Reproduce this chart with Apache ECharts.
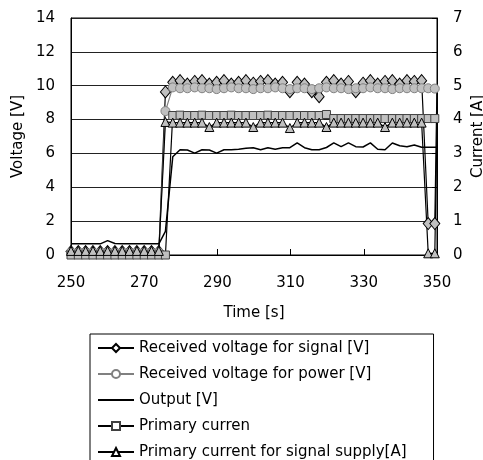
<!DOCTYPE html>
<html>
<head>
<meta charset="utf-8">
<script src="https://cdn.jsdelivr.net/npm/echarts@6/dist/echarts.min.js"></script>
<style>
  html, body { margin: 0; padding: 0; background: #fff; }
  #chart { width: 483px; height: 460px; }
</style>
</head>
<body>
<div id="chart"></div>
<script>
// sample times [s]
var time = [250, 252, 254, 256, 258, 260, 262, 264, 266, 268, 270, 272, 274,
  275.8, 277.8, 279.8, 281.8, 283.8, 285.8, 287.8, 289.8, 291.8, 293.8, 295.8,
  297.8, 299.8, 301.8, 303.8, 305.8, 307.8, 309.8, 311.8, 313.8, 315.8, 317.8,
  319.8, 321.8, 323.8, 325.8, 327.8, 329.8, 331.8, 333.8, 335.8, 337.8, 339.8,
  341.8, 343.8, 345.8, 347.6, 349.4, 350];

// voltages [V]
var signalV = [0.2, 0.2, 0.2, 0.2, 0.2, 0.2, 0.2, 0.2, 0.2, 0.2, 0.2, 0.2, 0.2,
  9.63, 10.2, 10.3, 10.1, 10.25, 10.3, 10.1, 10.2, 10.3, 10.1, 10.2, 10.3,
  10.15, 10.25, 10.3, 10.1, 10.2, 9.65, 10.2, 10.1, 9.65, 9.35, 10.2, 10.3,
  10.1, 10.25, 9.65, 10.15, 10.3, 10.1, 10.25, 10.3, 10.1, 10.3, 10.25, 10.3,
  1.86, 1.86, 10.1];
var powerV = [0.15, 0.15, 0.15, 0.15, 0.15, 0.15, 0.15, 0.15, 0.15, 0.15, 0.15, 0.15, 0.15,
  8.5, 9.9, 9.85, 9.85, 9.9, 9.85, 9.85, 9.8, 9.85, 9.9, 9.85, 9.85, 9.8,
  9.85, 9.85, 9.9, 9.85, 9.8, 9.85, 9.85, 9.8, 9.85, 9.9, 9.85, 9.85, 9.8,
  9.85, 9.85, 9.9, 9.85, 9.85, 9.8, 9.85, 9.85, 9.85, 9.85,
  9.85, 9.83, 9.83];
var outputV = [0.66, 0.66, 0.66, 0.66, 0.66, 0.85, 0.68, 0.66, 0.66, 0.66, 0.66, 0.66, 0.66,
  1.4, 5.8, 6.22, 6.2, 6.02, 6.22, 6.2, 6.02, 6.22, 6.22, 6.25, 6.3, 6.34,
  6.22, 6.34, 6.25, 6.34, 6.34, 6.62, 6.34, 6.22, 6.22, 6.35, 6.62, 6.4, 6.62,
  6.4, 6.38, 6.62, 6.25, 6.22, 6.62, 6.45, 6.4, 6.5, 6.36,
  6.36, 6.36, 6.36];

// currents [A]
var primaryA = [0, 0, 0, 0, 0, 0, 0, 0, 0, 0, 0, 0, 0,
  0, 4.12, 4.13, 4.12, 4.12, 4.13, 4.12, 4.12, 4.12, 4.13, 4.12, 4.12, 4.12,
  4.12, 4.13, 4.12, 4.12, 4.12, 4.12, 4.12, 4.12, 4.12, 4.15, 4.03, 4.03, 4.03,
  4.03, 4.03, 4.03, 4.03, 4.03, 4.03, 4.03, 4.03, 4.03, 4.03,
  4.03, 4.03, 4.03];
var signalSupplyA = [0.12, 0.12, 0.12, 0.12, 0.12, 0.12, 0.12, 0.12, 0.12, 0.12, 0.12, 0.12, 0.12,
  3.93, 3.91, 3.91, 3.91, 3.91, 3.91, 3.78, 3.91, 3.91, 3.91, 3.91, 3.91, 3.78,
  3.91, 3.91, 3.91, 3.91, 3.75, 3.91, 3.91, 3.91, 3.91, 3.78, 3.91, 3.91, 3.91,
  3.91, 3.91, 3.91, 3.91, 3.78, 3.91, 3.91, 3.91, 3.91, 3.91,
  0.05, 0.05, 3.8];

var seriesNames = ["Received voltage for signal [V]", "Received voltage for power [V]",
  "Output [V]", "Primary curren", "Primary current for signal supply[A]"];

function pairs(vals) {
  return vals.map(function (v, i) {
    var item = { value: [time[i], v] };
    if (i === vals.length - 1) item.symbol = "none";
    return item;
  });
}

var legendData = seriesNames.map(function (n, i) {
  if (i === 2) return { name: n, itemStyle: { color: "transparent", borderWidth: 0 } };
  return { name: n, itemStyle: { color: "#fff" } };
});

var font = "DejaVu Sans";
var myChart = echarts.init(document.getElementById("chart"));
var option = {
  animation: false,
  textStyle: { fontFamily: font },
  grid: {
    left: 71, right: 46, top: 18, bottom: 205,
    containLabel: false, outerBoundsMode: "none",
    show: true, borderColor: "#000", borderWidth: 1
  },
  legend: {
    orient: "vertical",
    left: 90,
    top: 334,
    height: 300,
    padding: [6, 27, 14, 7],
    borderColor: "#000",
    borderWidth: 1,
    itemWidth: 36,
    itemHeight: 10,
    itemGap: 10,
    textStyle: { fontFamily: font, fontSize: 15, color: "#000", lineHeight: 16 },
    data: legendData
  },
  xAxis: {
    type: "value",
    min: 250,
    max: 350,
    interval: 20,
    name: "Time [s]",
    nameLocation: "middle",
    nameGap: 51,
    nameMoveOverlap: false,
    nameTextStyle: { fontSize: 15, color: "#000", fontFamily: font },
    axisLine: { lineStyle: { color: "#000" } },
    axisTick: { inside: true, length: 6, lineStyle: { color: "#000" } },
    axisLabel: { fontSize: 15, color: "#000", margin: 21 },
    splitLine: { show: false }
  },
  yAxis: [
    {
      type: "value",
      min: 0,
      max: 14,
      interval: 2,
      name: "Voltage [V]",
      nameLocation: "middle",
      nameRotate: 90,
      nameGap: 45,
      nameMoveOverlap: false,
      nameTextStyle: { fontSize: 15, color: "#000", fontFamily: font },
      axisLine: { show: true, lineStyle: { color: "#000" } },
      axisTick: { show: false },
      axisLabel: { fontSize: 15, color: "#000", margin: 16 },
      splitLine: { lineStyle: { color: "#222", width: 1 } }
    },
    {
      type: "value",
      position: "right",
      min: 0,
      max: 7,
      interval: 1,
      name: "Current [A]",
      nameLocation: "middle",
      nameRotate: 90,
      nameGap: 34,
      nameMoveOverlap: false,
      nameTextStyle: { fontSize: 15, color: "#000", fontFamily: font },
      axisLine: { show: true, lineStyle: { color: "#000" } },
      axisTick: { inside: true, length: 5, lineStyle: { color: "#000" } },
      axisLabel: { fontSize: 15, color: "#000", margin: 16 },
      splitLine: { show: false }
    }
  ],
  series: [
    {
      name: seriesNames[0],
      type: "line",
      yAxisIndex: 0,
      symbol: "diamond",
      symbolSize: [10, 12],
      itemStyle: { color: "#c0c0c0", borderColor: "#000", borderWidth: 1 },
      lineStyle: { color: "#000", width: 1.2 },
      data: pairs(signalV)
    },
    {
      name: seriesNames[1],
      type: "line",
      yAxisIndex: 0,
      symbol: "circle",
      symbolSize: 9,
      itemStyle: { color: "#c0c0c0", borderColor: "#808080", borderWidth: 1 },
      lineStyle: { color: "#808080", width: 1.2 },
      data: pairs(powerV)
    },
    {
      name: seriesNames[2],
      type: "line",
      yAxisIndex: 0,
      symbol: "none",
      itemStyle: { color: "#000" },
      lineStyle: { color: "#000", width: 1.5 },
      data: pairs(outputV)
    },
    {
      name: seriesNames[3],
      type: "line",
      yAxisIndex: 1,
      symbol: "rect",
      symbolSize: 8,
      itemStyle: { color: "#c0c0c0", borderColor: "#404040", borderWidth: 1 },
      lineStyle: { color: "#000", width: 1.2 },
      data: pairs(primaryA)
    },
    {
      name: seriesNames[4],
      type: "line",
      yAxisIndex: 1,
      symbol: "triangle",
      symbolSize: 9,
      itemStyle: { color: "#c0c0c0", borderColor: "#000", borderWidth: 1 },
      lineStyle: { color: "#000", width: 1.2 },
      data: pairs(signalSupplyA)
    }
  ]
};
myChart.setOption(option);
</script>
</body>
</html>
